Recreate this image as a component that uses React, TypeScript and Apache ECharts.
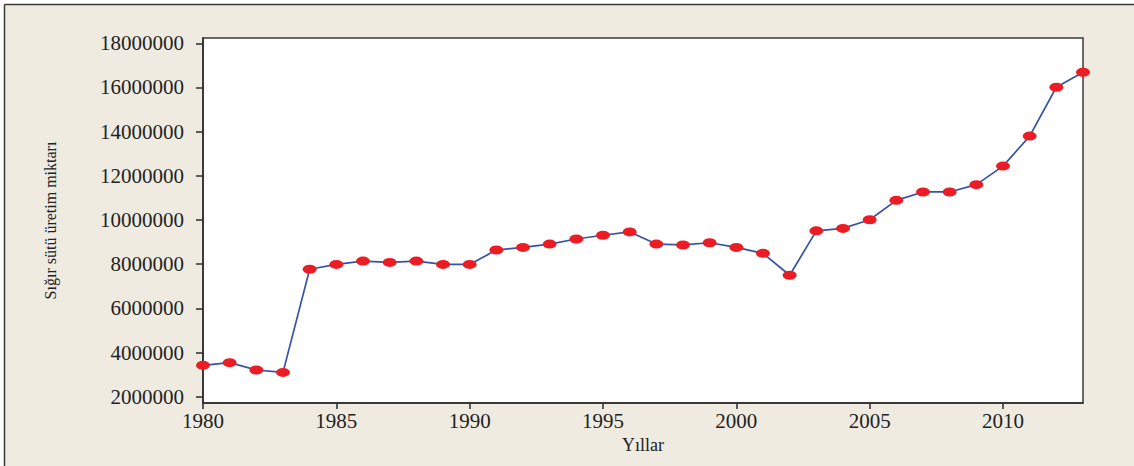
import React, { useEffect, useRef } from "react";
import * as echarts from "echarts";

const years: number[] = [
  1980, 1981, 1982, 1983, 1984, 1985, 1986, 1987, 1988, 1989, 1990, 1991,
  1992, 1993, 1994, 1995, 1996, 1997, 1998, 1999, 2000, 2001, 2002, 2003,
  2004, 2005, 2006, 2007, 2008, 2009, 2010, 2011, 2012, 2013,
];

const milkProduction: number[] = [
  3420000, 3540000, 3210000, 3100000, 7770000, 7990000, 8140000, 8080000,
  8140000, 7990000, 7990000, 8640000, 8760000, 8910000, 9140000, 9310000,
  9460000, 8910000, 8870000, 8970000, 8760000, 8490000, 7500000, 9510000,
  9620000, 10010000, 10890000, 11270000, 11270000, 11600000, 12440000,
  13800000, 16010000, 16690000,
];

const yTicks: number[] = [
  2000000, 4000000, 6000000, 8000000, 10000000, 12000000, 14000000, 16000000,
  18000000,
];
const xTicks: number[] = [1980, 1985, 1990, 1995, 2000, 2005, 2010];

const xTitle = "Yıllar";
const yTitle = "Sığır sütü üretim miktarı";

export default function App() {
  const ref = useRef<HTMLDivElement>(null);

  useEffect(() => {
    if (!ref.current) return;
    const chart = echarts.init(ref.current, undefined, { renderer: "svg" });
    const font = "'Liberation Serif', 'Times New Roman', serif";
    const axisColor = "#2b2b2b";
    chart.setOption({
      animation: false,
      backgroundColor: "#EFEBE1",
      graphic: {
        elements: [
          { type: "rect", shape: { x: 0, y: 0, width: 1134, height: 4 }, style: { fill: "#ffffff" }, silent: true },
          { type: "rect", shape: { x: 0, y: 0, width: 4, height: 466 }, style: { fill: "#ffffff" }, silent: true },
          { type: "line", shape: { x1: 4.5, y1: 4.5, x2: 1134, y2: 4.5 }, style: { stroke: "#3a3a3a", lineWidth: 1.5 }, silent: true },
          { type: "line", shape: { x1: 4.5, y1: 4.5, x2: 4.5, y2: 466 }, style: { stroke: "#3a3a3a", lineWidth: 1.5 }, silent: true },
        ],
      },
      grid: {
        left: 203,
        right: 51,
        top: 38,
        bottom: 63,
        show: true,
        backgroundColor: "#ffffff",
        borderColor: "#3a3a3a",
        borderWidth: 1.5,
      },
      xAxis: {
        type: "value",
        min: 1980,
        max: 2013,
        interval: 5,
        name: xTitle,
        nameLocation: "middle",
        nameGap: 29,
        nameTextStyle: { fontFamily: font, fontSize: 18, color: "#222" },
        axisLine: { show: true, lineStyle: { color: axisColor, width: 1.5 } },
        axisTick: { show: true, length: 6, customValues: xTicks, lineStyle: { color: axisColor, width: 1.5 } },
        axisLabel: {
          customValues: xTicks,
          margin: 7,
          fontFamily: font,
          fontSize: 21,
          color: "#222",
          formatter: (v: number) => String(v),
        },
        splitLine: { show: false },
      },
      yAxis: {
        type: "value",
        min: 1715000,
        max: 18240000,
        name: yTitle,
        nameLocation: "middle",
        nameGap: 145,
        nameTextStyle: { fontFamily: font, fontSize: 16, color: "#222" },
        axisLine: { show: true, lineStyle: { color: axisColor, width: 1.5 } },
        axisTick: { show: true, length: 7, customValues: yTicks, lineStyle: { color: axisColor, width: 1.5 } },
        axisLabel: {
          customValues: yTicks,
          margin: 19,
          fontFamily: font,
          fontSize: 21,
          color: "#222",
          formatter: (v: number) => String(v),
        },
        splitLine: { show: false },
      },
      series: [
        {
          type: "line",
          data: years.map((y, i) => [y, milkProduction[i]]),
          lineStyle: { color: "#3653A6", width: 1.7 },
          symbol: "path://M0 5 A5 5 0 1 0 10 5 A5 5 0 1 0 0 5 Z",
          symbolSize: [14, 9],
          itemStyle: { color: "#EC1C24", borderWidth: 0 },
          showSymbol: true,
          clip: false,
        },
      ],
    });
    return () => chart.dispose();
  }, []);

  return (
    <div
      ref={ref}
      style={{ position: "fixed", left: 0, top: 0, width: 1134, height: 466 }}
    />
  );
}
